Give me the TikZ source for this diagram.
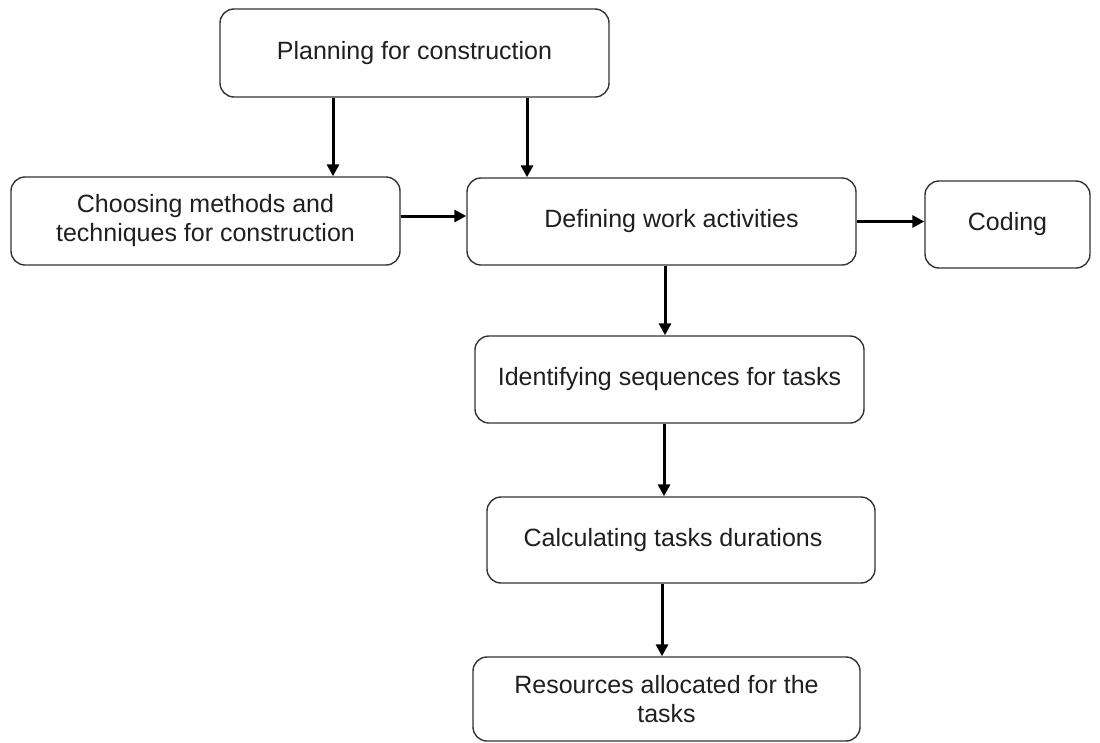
\documentclass[tikz,border=0pt]{standalone}
\usepackage{fontspec}
\setmainfont{Liberation Sans}
\usetikzlibrary{arrows.meta}
\begin{document}
\begin{tikzpicture}[x=1pt,y=-1pt,
  box/.style={draw=black!80, line width=1.4pt, rounded corners=14pt, inner sep=0pt,
    align=center, font=\fontsize{25}{29}\selectfont, text=black!88},
  arr/.style={line width=3pt, -{Triangle[length=12pt,width=12pt]}}]
\useasboundingbox (0,0) rectangle (1100,742);
\node[box, minimum width=389pt, minimum height=88pt] (P) at (414.5,53) {Planning for construction};
\node[box, minimum width=389pt, minimum height=88pt] (C) at (205.5,221) {Choosing methods and\\techniques for construction};
\node[box, minimum width=389pt, minimum height=87pt] (D) at (661.5,221.5) {\hspace*{20pt}Defining work activities};
\node[box, minimum width=165pt, minimum height=87pt] (K) at (1007.5,224.5) {Coding};
\node[box, minimum width=389pt, minimum height=87pt] (I) at (669.5,379.5) {Identifying sequences for tasks};
\node[box, minimum width=388pt, minimum height=86pt] (Ca) at (681,540) {Calculating tasks durations\hspace*{16pt}};
\node[box, minimum width=387pt, minimum height=84pt] (R) at (666.5,699) {Resources allocated for the\\tasks};
\draw[arr] ([xshift=-81.5pt]P.south) -- ([xshift=-81.5pt]P.south |- C.north);
\draw[arr] ([xshift=112.5pt]P.south) -- ([xshift=112.5pt]P.south |- D.north);
\draw[arr] ([yshift=5pt]C.east) -- ([yshift=5pt]C.east -| D.west);
\draw[arr] (D.east) -- (D.east -| K.west);
\draw[arr] ([xshift=3.5pt]D.south) -- ([xshift=3.5pt]D.south |- I.north);
\draw[arr] ([xshift=-5.5pt]I.south) -- ([xshift=-5.5pt]I.south |- Ca.north);
\draw[arr] ([xshift=-19pt]Ca.south) -- ([xshift=-19pt]Ca.south |- R.north);
\end{tikzpicture}
\end{document}
